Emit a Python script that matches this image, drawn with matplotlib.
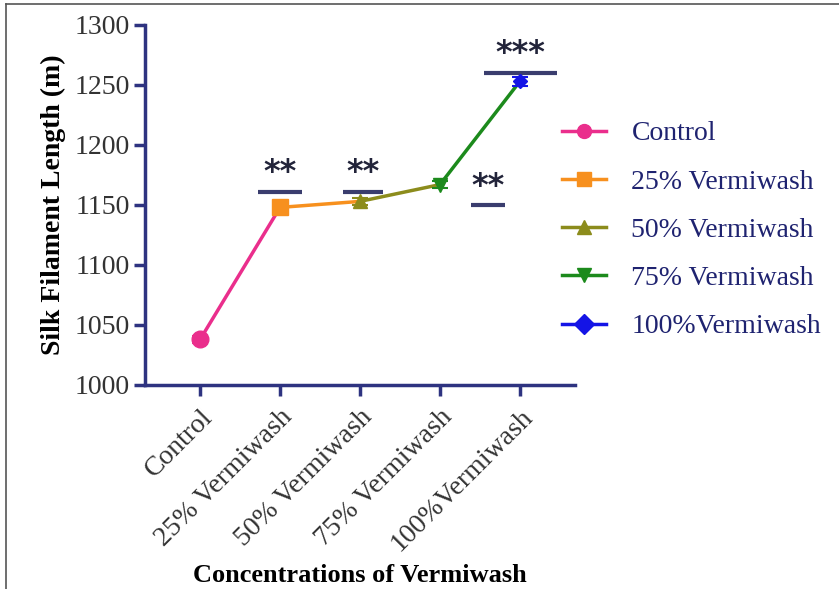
import matplotlib
matplotlib.use("Agg")
import matplotlib.pyplot as plt
from matplotlib.lines import Line2D

# data
categories = ['Control', '25% Vermiwash', '50% Vermiwash', '75% Vermiwash', '100%Vermiwash']
legend_names = ['Control', '25% Vermiwash', '50% Vermiwash', '75% Vermiwash', '100%Vermiwash']
means = [1038, 1148, 1153, 1167, 1253]
errors = [3, 2, 3, 3, 4]
colors = ['#ea2e8c', '#f7901e', '#8c8c1c', '#1c8a1c', '#1414e6']
markers = ['o', 's', '^', 'v', 'D']
msizes = [12, 12, 10, 10, 7]

# significance marks: (x start, x end, bar y, text, text y)
sig_x0 = [0.73, 1.79, 3.39, 3.55]
sig_x1 = [1.27, 2.29, 3.81, 4.46]
sig_y = [1161, 1161, 1150, 1260]
sig_txt = ['**', '**', '**', '***']
sig_ty = [1177, 1177, 1165, 1276]

navy = '#2e3380'
plt.rcParams['font.family'] = 'Liberation Serif'

fig = plt.figure(figsize=(8.39, 5.89), dpi=100)
ax = fig.add_axes([145/839, 1 - 385/589, 430/839, 360/589])

x = list(range(len(categories)))
for i in range(len(x) - 1):
    ax.plot(x[i:i+2], means[i:i+2], color=colors[i], lw=2.5, zorder=2)
for i in range(len(x)):
    ax.errorbar(x[i], means[i], yerr=errors[i], color=colors[i], marker=markers[i],
                ms=msizes[i], capsize=6, elinewidth=1.5, capthick=1.5, zorder=3)

for a, b, y, t, ty in zip(sig_x0, sig_x1, sig_y, sig_txt, sig_ty):
    ax.plot([a, b], [y, y], color='#3a3d6e', lw=3, solid_capstyle='butt', zorder=1)
    ax.text((a + b) / 2, ty, t, ha='center', va='center', fontsize=23,
            fontweight='bold', family='DejaVu Sans', color='#22243a')

ax.set_xlim(-0.69, 4.69)
ax.set_ylim(1000, 1300)
ax.set_yticks(range(1000, 1301, 50))
ax.set_xticks(x)
ax.set_xticklabels(categories, rotation=45, ha='right', rotation_mode='anchor')
ax.tick_params(axis='both', colors=navy, width=2.5, length=8, labelsize=20,
               labelcolor='#333333')
ax.tick_params(axis='x', pad=6)
ax.tick_params(axis='y', pad=3)
for s in ['top', 'right']:
    ax.spines[s].set_visible(False)
for s in ['left', 'bottom']:
    ax.spines[s].set_color(navy)
    ax.spines[s].set_linewidth(2.5)

ax.set_ylabel('Silk Filament Length (m)', fontsize=20, fontweight='bold', labelpad=6)
fig.text(360/839, 1 - 575/589, 'Concentrations of Vermiwash', ha='center', va='center',
         fontsize=19, fontweight='bold')

handles = [Line2D([], [], color=c, marker=m, ms=10, lw=2.5) for c, m in zip(colors, markers)]
leg = fig.legend(handles, legend_names, loc='upper left', bbox_to_anchor=(562/839, 1 - 121/589),
                 frameon=False, fontsize=20, labelspacing=0.82, handlelength=1.6,
                 handletextpad=0.9, borderpad=0, borderaxespad=0)
for t in leg.get_texts():
    t.set_color('#1f2370')

# partial frame of the screenshot
fig.add_artist(Line2D([6/839, 6/839], [0, 1 - 4/589], transform=fig.transFigure, color='#555555', lw=1.2))
fig.add_artist(Line2D([6/839, 1], [1 - 4/589, 1 - 4/589], transform=fig.transFigure, color='#555555', lw=1.2))

fig.savefig('out.png', dpi=100)
